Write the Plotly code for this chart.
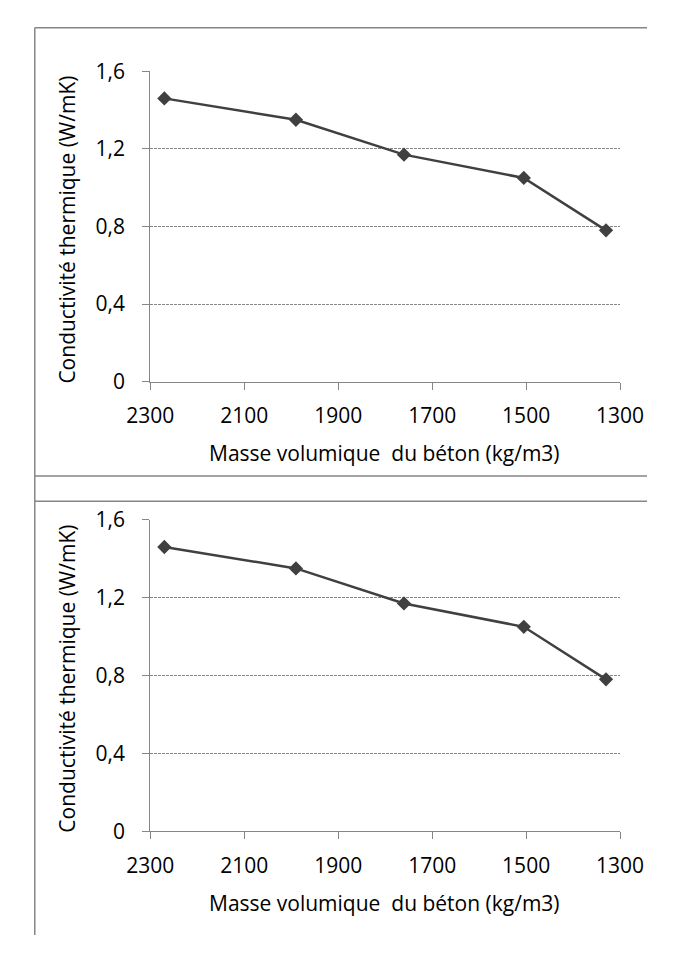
import plotly.graph_objects as go
from plotly.subplots import make_subplots

# donnees
masse_volumique = [2270, 1990, 1760, 1505, 1330]     # kg/m3
conductivite = [1.46, 1.35, 1.17, 1.05, 0.78]        # W/mK

x_ticks = [2300, 2100, 1900, 1700, 1500, 1300]
y_ticks = [0, 0.4, 0.8, 1.2, 1.6]

titre_x = "Masse volumique \u00a0du béton (kg/m3)"
titre_y = "Conductivité thermique (W/mK)"

# the page body puts 8px round the figure, so the figure is made smaller
# to fit the 679x956 window without scrollbars
OFF = 8
W, H = 679 - 2 * OFF, 956 - 2 * OFF
FONT = "Open Sans"
FS = 21
GRIS = "#868686"
LIGNE = "#404040"


def px_x(p):
    # p = pixel in the final picture
    return (p - OFF) / W


def px_y(p):
    return 1 - (p - OFF) / H


fig = make_subplots(rows=2, cols=1)

# the two charts are the same
for row in (1, 2):
    fig.add_trace(go.Scatter(
        x=masse_volumique, y=conductivite, mode="lines+markers",
        line=dict(color=LIGNE, width=2.5),
        marker=dict(symbol="diamond", size=11, color=LIGNE),
        showlegend=False, cliponaxis=False), row=row, col=1)

# plot areas (pixels from the top of the picture)
zones = [(57.7, 377.7), (520, 841)]
for i, (top, bottom) in enumerate(zones, start=1):
    sx = "" if i == 1 else str(i)
    fig.layout["xaxis" + sx].update(
        domain=[px_x(135.5), px_x(642)], range=[2300, 1300],
        tickvals=x_ticks, ticks="outside", ticklen=7, tickcolor=GRIS,
        showline=True, linecolor=GRIS, linewidth=1.3, showgrid=False,
        zeroline=False, ticklabelstandoff=8,
        tickfont=dict(family=FONT, size=FS, color="black"))
    fig.layout["yaxis" + sx].update(
        domain=[px_y(bottom), px_y(top)], range=[0, 1.6],
        tickvals=y_ticks, ticks="outside", ticklen=7, tickcolor=GRIS,
        showline=True, linecolor=GRIS, linewidth=1.3,
        showgrid=True, gridcolor=GRIS, gridwidth=1, griddash="3px,1px",
        zeroline=False, ticklabelstandoff=13,
        tickfont=dict(family=FONT, size=FS, color="black"))
    fig.add_annotation(text=titre_x, xref="paper", yref="paper",
                       x=px_x(388), y=px_y(bottom + 74), showarrow=False,
                       xanchor="center", yanchor="middle",
                       font=dict(family=FONT, size=FS, color="black"))
    fig.add_annotation(text=titre_y, xref="paper", yref="paper",
                       x=px_x(46), y=px_y((top + bottom) / 2 + 3),
                       textangle=-90, showarrow=False,
                       xanchor="center", yanchor="middle",
                       font=dict(family=FONT, size=FS, color="black"))

# cadres
bord = dict(color=GRIS, width=1.5)
fig.add_shape(type="line", xref="paper", yref="paper",
              x0=px_x(11), x1=px_x(11), y0=px_y(13), y1=0, line=bord)
for yy in (13, 475, 501):
    fig.add_shape(type="line", xref="paper", yref="paper",
                  x0=px_x(11), x1=1, y0=px_y(yy), y1=px_y(yy), line=bord)

fig.update_layout(
    width=W, height=H, margin=dict(l=0, r=0, t=0, b=0),
    paper_bgcolor="white", plot_bgcolor="white",
    separators=", ",
)

fig.write_html("out.html")
